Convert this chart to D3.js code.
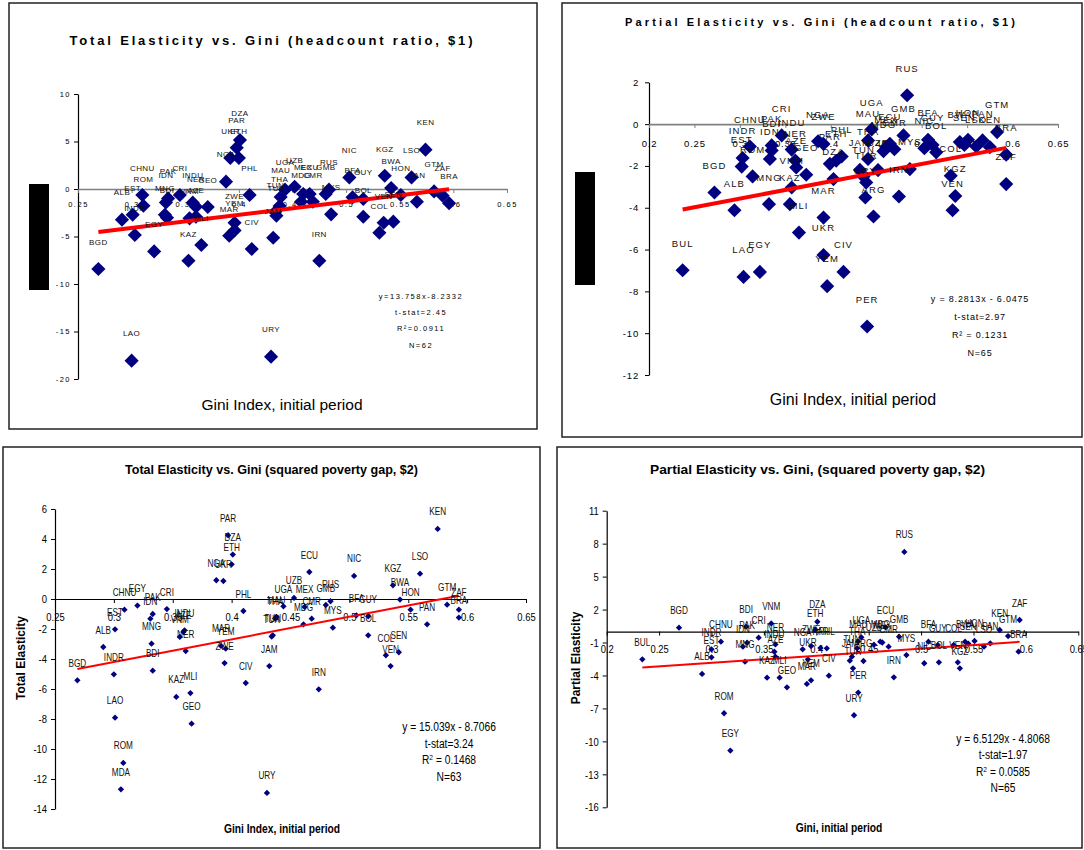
<!DOCTYPE html>
<html>
<head>
<meta charset="utf-8">
<script src="https://cdn.jsdelivr.net/npm/d3@7"></script>
<style>
body { margin: 0; background: #fff; }
</style>
</head>
<body>
<div class="chart"></div>
<script>
// ---- panel 1: total elasticity, headcount ratio $1 ----
const p1Names = ['BGD','ALB','EST','INDR','CHNU','ROM','EGY','MNG','PAK','IDN','BDI','CRI','KAZ','INDU','VNM','AZE','NER','MLI','GEO','NGA','MAR','UKR','ZWE','YEM','DZA','PAR','ETH','PHL','CIV','KEN','NIC','KGZ','LSO','BWA','HON','GTM','ZAF','BRA','PAN','UGA','UZB','MAU','MEX','ECU','GMB','RUS','MDG','CMR','THA','TUN','TUR','MYS','BFA','GUY','BOL','VEN','SEN','COL','JAM','IRN','LAO','URY'];
const p1Gini = [0.269,0.291,0.301,0.303,0.310,0.311,0.321,0.331,0.334,0.332,0.333,0.345,0.353,0.357,0.354,0.360,0.360,0.365,0.371,0.388,0.391,0.392,0.396,0.396,0.401,0.398,0.400,0.410,0.412,0.574,0.503,0.536,0.561,0.542,0.551,0.582,0.590,0.596,0.566,0.443,0.452,0.439,0.460,0.466,0.481,0.484,0.458,0.469,0.438,0.434,0.435,0.486,0.506,0.516,0.516,0.535,0.544,0.531,0.432,0.475,0.300,0.430];
const p1Elast = [-8.42,-3.23,-2.71,-4.84,-0.63,-1.76,-6.57,-2.71,-0.99,-1.41,-3.02,-0.63,-7.55,-1.44,-3.09,-2.92,-1.86,-5.90,-1.89,0.77,-4.92,3.26,-3.55,-4.36,5.16,4.35,3.26,-0.63,-6.32,4.14,1.22,1.40,1.22,0.10,-0.63,-0.25,-0.70,-1.50,-1.34,-0.07,0.24,-0.84,-0.53,-0.53,-0.53,-0.07,-1.34,-1.34,-1.79,-2.40,-2.81,-2.67,-0.88,-1.05,-2.92,-3.55,-3.44,-4.60,-5.13,-7.55,-18.07,-17.65];
const p1XTicks = [0.25,0.3,0.35,0.4,0.45,0.5,0.55,0.6,0.65];
const p1YTicks = [-20,-15,-10,-5,0,5,10];
const p1Fit = [13.758, -8.2332];
const p1Stats = ['y=13.758x-8.2332','t-stat=2.45','R\u00b2=0.0911','N=62'];

// ---- panel 2: partial elasticity, headcount ratio $1 ----
const p2Names = ['BUL','LAO','EGY','BGD','ALB','CHNU','INDR','EST','ROM','PAK','BDI','IDN','CRI','INDU','NER','AZE','GEO','VNM','MNG','KAZ','MLI','NGA','ZWE','RUS','UGA','MAU','GMB','ECU','MEX','MDG','CMR','PHL','PAR','ETH','DZA','THA','JAM','UZB','TUN','TUR','URY','ARG','IRN','MYS','BFA','NIC','BOL','GUY','COL','KGZ','VEN','GTM','BRA','ZAF','BWA','HON','SEN','PAN','LSO','KEN','MAR','UKR','CIV','YEM','PER'];
const p2Gini = [0.237,0.304,0.322,0.272,0.294,0.311,0.303,0.302,0.314,0.335,0.335,0.333,0.346,0.357,0.361,0.362,0.373,0.357,0.332,0.355,0.365,0.386,0.392,0.484,0.445,0.441,0.480,0.465,0.461,0.458,0.470,0.412,0.399,0.406,0.403,0.441,0.432,0.452,0.436,0.439,0.438,0.447,0.475,0.487,0.507,0.503,0.516,0.512,0.532,0.537,0.534,0.583,0.593,0.593,0.542,0.551,0.547,0.567,0.560,0.575,0.392,0.392,0.414,0.396,0.440];
const p2Elast = [-6.99,-7.31,-7.07,-3.27,-4.12,-1.07,-1.62,-2.03,-2.50,-1.02,-1.26,-1.67,-0.54,-1.22,-1.74,-2.07,-2.42,-3.03,-3.83,-3.83,-5.19,-0.82,-0.95,1.38,-0.25,-0.78,-0.54,-0.94,-1.10,-1.30,-1.20,-1.55,-1.90,-1.75,-2.63,-1.67,-2.19,-2.20,-2.50,-2.79,-3.51,-4.42,-3.46,-2.15,-0.75,-1.15,-1.35,-1.00,-2.47,-3.44,-4.12,-0.38,-1.46,-2.87,-0.86,-0.75,-1.00,-0.78,-1.07,-1.10,-4.47,-6.26,-7.07,-7.75,-9.68];
const p2XTicks = [0.2,0.25,0.3,0.35,0.4,0.45,0.5,0.55,0.6,0.65];
const p2YTicks = [-12,-10,-8,-6,-4,-2,0,2];
const p2Fit = [8.2813, -6.0475];
const p2Stats = ['y = 8.2813x - 6.0475','t-stat=2.97','R\u00b2 = 0.1231','N=65'];

// ---- panel 3: total elasticity, squared poverty gap $2 ----
const p3Names = ['PAR','DZA','ETH','NGA','UKR','PHL','CHNU','EGY','PAK','IDN','CRI','EST','ALB','INDU','VNM','AZE','NER','MNG','BDI','INDR','BGD','MAR','YEM','ZWE','CIV','KAZ','MLI','JAM','LAO','ROM','MDA','GEO','URY','KEN','ECU','NIC','LSO','KGZ','BWA','HON','GTM','ZAF','BRA','PAN','UZB','UGA','MAU','TUN','TUR','THA','MEX','GMB','RUS','CMR','MDG','MYS','BFA','GUY','BOL','COL','SEN','VEN','IRN'];
const p3Gini = [0.397,0.401,0.400,0.387,0.393,0.410,0.309,0.320,0.333,0.331,0.345,0.301,0.291,0.360,0.356,0.359,0.361,0.332,0.333,0.300,0.269,0.391,0.395,0.394,0.412,0.353,0.365,0.432,0.301,0.308,0.306,0.366,0.430,0.575,0.466,0.504,0.560,0.537,0.543,0.552,0.583,0.593,0.593,0.566,0.453,0.444,0.438,0.435,0.434,0.437,0.462,0.480,0.484,0.468,0.461,0.486,0.506,0.516,0.516,0.531,0.542,0.535,0.474];
const p3Elast = [4.25,2.96,2.31,1.25,1.20,-0.80,-0.71,-0.44,-1.00,-1.31,-0.67,-2.02,-3.20,-2.09,-2.53,-2.20,-3.47,-2.98,-4.78,-5.02,-5.42,-3.13,-3.31,-4.27,-5.60,-6.53,-6.27,-4.47,-7.91,-10.93,-12.69,-8.31,-12.93,4.67,1.80,1.54,1.69,0.91,-0.04,-0.71,-0.38,-0.71,-1.24,-1.69,0.07,-0.49,-1.20,-2.42,-2.50,-1.30,-0.53,-0.40,-0.15,-1.31,-1.69,-1.91,-1.09,-1.15,-2.42,-3.75,-3.55,-4.47,-6.02];
const p3XTicks = [0.25,0.3,0.35,0.4,0.45,0.5,0.55,0.6,0.65];
const p3YTicks = [-14,-12,-10,-8,-6,-4,-2,0,2,4,6];
const p3Fit = [15.039, -8.7066];
const p3Stats = ['y = 15.039x - 8.7066','t-stat=3.24','R\u00b2 = 0.1468','N=63'];

// ---- panel 4: partial elasticity, squared poverty gap $2 ----
const p4Names = ['BGD','BUL','ALB','EST','INDR','CHNU','BDI','PAK','IDN','MNG','CRI','VNM','NER','INDU','AZE','KAZ','MLI','GEO','ROM','EGY','URY','DZA','ETH','NGA','ZWE','MAR','YEM','UKR','RUS','ZAF','KEN','GTM','BRA','PAN','LSO','HON','BWA','SEN','COL','GUY','BFA','BOL','NIC','VEN','KGZ','ECU','GMB','UGA','MAU','MDG','CMR','THA','UZB','MYS','IRN','TUN','JAM','ARG','TUR','PER','CIV','PHL','MEX','PAR'];
const p4Gini = [0.269,0.234,0.291,0.300,0.300,0.309,0.333,0.334,0.330,0.332,0.345,0.357,0.361,0.360,0.361,0.353,0.365,0.372,0.312,0.318,0.436,0.401,0.399,0.387,0.395,0.391,0.395,0.392,0.484,0.594,0.575,0.583,0.593,0.566,0.560,0.551,0.542,0.545,0.531,0.516,0.507,0.517,0.503,0.535,0.537,0.466,0.479,0.443,0.440,0.461,0.469,0.439,0.455,0.486,0.474,0.434,0.432,0.445,0.435,0.440,0.412,0.410,0.463,0.404];
const p4Elast = [0.35,-2.53,-3.86,-2.35,-1.62,-0.92,0.44,-1.01,-1.38,-2.74,-0.56,0.74,-1.17,-1.84,-2.29,-4.20,-4.20,-5.08,-7.44,-10.84,-7.62,0.89,0.14,-1.62,-1.32,-4.77,-4.44,-2.53,7.25,1.05,0.14,-0.41,-1.83,-1.07,-1.38,-0.86,-0.92,-1.10,-1.23,-1.23,-0.92,-2.80,-2.89,-2.80,-3.35,0.38,-0.47,-0.53,-0.90,-0.92,-1.38,-1.53,-1.20,-2.14,-4.17,-2.29,-2.65,-2.68,-3.35,-5.56,-4.02,-1.53,-1.00,-1.50];
const p4XTicks = [0.2,0.25,0.3,0.35,0.4,0.45,0.5,0.55,0.6,0.65];
const p4YTicks = [-16,-13,-10,-7,-4,-1,2,5,8,11];
const p4Fit = [6.5129, -4.8068];
const p4Stats = ['y = 6.5129x - 4.8068','t-stat=1.97','R\u00b2 = 0.0585','N=65'];

const wideFont = 'Arial, "Liberation Sans", sans-serif';

const svg = d3.select('.chart')
    .append('svg')
    .attr('width', 1084)
    .attr('height', 850);

// squeeze text horizontally around its own anchor (the bottom charts use a condensed face)
function squeeze(sel, s) {
    if (s === 1) return;
    sel.each(function () {
        const t = d3.select(this);
        const tx = +t.attr('x') || 0, ty = +t.attr('y') || 0;
        t.attr('x', 0).attr('y', 0).attr('transform', `translate(${tx},${ty}) scale(${s},1)`);
    });
}

function drawPanel(c) {
    const g = svg.append('g');
    const x = d3.scaleLinear().domain(c.xDomain).range(c.xRange);
    const y = d3.scaleLinear().domain(c.yDomain).range(c.yRange);
    const data = c.names.map((n, i) => ({ name: n, gini: c.gini[i], e: c.elast[i] }));

    // frame
    g.append('rect')
        .attr('x', c.frame[0])
        .attr('y', c.frame[1])
        .attr('width', c.frame[2] - c.frame[0])
        .attr('height', c.frame[3] - c.frame[1])
        .attr('fill', 'none')
        .attr('stroke', '#222')
        .attr('stroke-width', 1.5);

    if (c.box) {
        g.append('rect')
            .attr('x', c.box[0]).attr('y', c.box[1])
            .attr('width', c.box[2] - c.box[0]).attr('height', c.box[3] - c.box[1])
            .attr('fill', '#000');
    }

    const yAxis = g.append('g')
        .attr('transform', `translate(${c.xRange[0]},0)`)
        .call(d3.axisLeft(y).tickValues(c.yTicks).tickSize(4).tickSizeOuter(0).tickPadding(c.yPad).tickFormat(d => d));
    const xAxis = g.append('g')
        .attr('transform', `translate(0,${y(0)})`)
        .call(d3.axisBottom(x).tickValues(c.xTicks).tickSize(4).tickSizeOuter(0).tickPadding(c.xPad)
            .tickFormat(d => String(+d.toFixed(2))));

    [yAxis, xAxis].forEach(a => {
        a.attr('font-family', wideFont).attr('font-size', c.tickSize);
        a.selectAll('text').attr('fill', '#000').style('letter-spacing', c.tickSpacing + 'px');
        a.selectAll('line').attr('stroke', '#000');
        a.select('.domain').attr('stroke', '#000').attr('stroke-width', 1.2);
        squeeze(a.selectAll('text'), c.sx);
    });
    xAxis.select('.domain').attr('stroke', c.zeroColor).attr('stroke-width', c.zeroWidth);
    xAxis.selectAll('line').attr('stroke', c.zeroColor);

    // points
    g.selectAll('path.pt')
        .data(data)
        .join('path')
        .attr('class', 'pt')
        .attr('d', d3.symbol(d3.symbolSquare, c.symArea))
        .attr('transform', d => `translate(${x(d.gini)},${y(d.e)}) rotate(45)`)
        .attr('fill', '#000080');

    // trend line
    const xs = d3.extent(c.gini);
    g.append('line')
        .attr('x1', x(xs[0])).attr('y1', y(c.fit[0] * xs[0] + c.fit[1]))
        .attr('x2', x(xs[1])).attr('y2', y(c.fit[0] * xs[1] + c.fit[1]))
        .attr('stroke', '#ff0000')
        .attr('stroke-width', c.lineWidth);

    // country labels
    const lbl = g.append('g')
        .attr('font-family', wideFont)
        .attr('font-size', c.lblSize)
        .attr('text-anchor', 'middle')
        .style('letter-spacing', c.lblSpacing + 'px')
        .selectAll('text')
        .data(data)
        .join('text')
        .attr('x', d => x(d.gini))
        .attr('y', d => y(d.e) - c.lblOff)
        .attr('dy', '0.35em')
        .attr('fill', '#111')
        .text(d => d.name);
    squeeze(lbl, c.sx);

    // regression stats
    const st = g.append('g')
        .attr('font-family', wideFont)
        .attr('font-size', c.statSize)
        .attr('text-anchor', 'middle')
        .style('letter-spacing', c.statSpacing + 'px');
    c.stats.forEach((s, i) => {
        const t = st.append('text')
            .attr('x', c.statPos[0])
            .attr('y', c.statPos[1] + i * c.statStep)
            .attr('dy', '0.35em');
        if (c.supR && s.startsWith('R\u00b2')) {
            t.append('tspan').text('R');
            t.append('tspan').attr('font-size', c.statSize * 0.65).attr('dy', '-0.5em').text('2');
            t.append('tspan').attr('dy', '0.32em').text(s.slice(2));
        } else {
            t.text(s);
        }
    });
    squeeze(st.selectAll('text'), c.sx);

    // title
    g.append('text')
        .attr('x', c.titlePos[0])
        .attr('y', c.titlePos[1])
        .attr('text-anchor', 'middle')
        .attr('font-family', wideFont)
        .attr('font-size', c.titleSize)
        .attr('font-weight', 'bold')
        .attr('textLength', c.titleLen)
        .attr('lengthAdjust', c.titleAdjust)
        .text(c.title);

    // x axis title
    const xt = g.append('text')
        .attr('x', c.xTitlePos[0])
        .attr('y', c.xTitlePos[1])
        .attr('text-anchor', 'middle')
        .attr('font-family', wideFont)
        .attr('font-size', c.xTitleSize)
        .attr('font-weight', c.xTitleWeight)
        .text(c.xTitle);
    squeeze(xt, c.sx);

    if (c.yTitle) {
        g.append('text')
            .attr('transform', `translate(${c.yTitlePos[0]},${c.yTitlePos[1]}) rotate(-90)`)
            .attr('text-anchor', 'middle')
            .attr('dy', '0.35em')
            .attr('font-family', wideFont)
            .attr('font-size', 12)
            .attr('font-weight', 'bold')
            .text(c.yTitle);
    }
}

const topStyle = {
    sx: 1, zeroColor: '#808080', zeroWidth: 1.6, titleAdjust: 'spacing',
    xTitleWeight: 'normal', lineWidth: 4, symArea: 100, lblOff: 27, supR: false
};
const bottomStyle = {
    sx: 0.82, tickSize: 11.5, tickSpacing: 0, zeroColor: '#000', zeroWidth: 1.2,
    lblSize: 10, lblSpacing: 0, statSize: 12.5, statSpacing: 0,
    statStep: 16.5, titleSize: 12.5, titleAdjust: 'spacingAndGlyphs',
    xTitleSize: 12.5, xTitleWeight: 'bold', lineWidth: 2, symArea: 20, lblOff: 17, supR: true
};

drawPanel(Object.assign({}, topStyle, {
    names: p1Names, gini: p1Gini, elast: p1Elast, fit: p1Fit, stats: p1Stats,
    xTicks: p1XTicks, yTicks: p1YTicks,
    xDomain: [0.25, 0.65], xRange: [78, 507], yDomain: [-20, 10], yRange: [379, 94],
    frame: [9, 3, 537, 429], box: [29, 184, 49, 290],
    tickSize: 7.5, tickSpacing: 1.5, xPad: 9, yPad: 3,
    lblSize: 8, lblSpacing: 0.4,
    statSize: 7.5, statSpacing: 1.5, statPos: [421, 296], statStep: 16.3,
    title: 'Total Elasticity vs. Gini (headcount ratio, $1)', titlePos: [271, 45], titleSize: 13, titleLen: 403,
    xTitle: 'Gini Index, initial period', xTitlePos: [282, 410], xTitleSize: 15.5
}));

drawPanel(Object.assign({}, topStyle, {
    names: p2Names, gini: p2Gini, elast: p2Elast, fit: p2Fit, stats: p2Stats,
    xTicks: p2XTicks, yTicks: p2YTicks,
    xDomain: [0.2, 0.65], xRange: [649, 1058], yDomain: [-12, 2], yRange: [375, 82.3],
    frame: [562, 3, 1082, 437], box: [575, 172, 595, 285],
    tickSize: 9.5, tickSpacing: 0.8, xPad: 12, yPad: 6,
    lblSize: 9.5, lblSpacing: 1.1,
    statSize: 9, statSpacing: 0.8, statPos: [980, 298.5], statStep: 18.1,
    title: 'Partial Elasticity vs. Gini (headcount ratio, $1)', titlePos: [820, 26], titleSize: 11, titleLen: 390,
    xTitle: 'Gini Index, initial period', xTitlePos: [853, 405], xTitleSize: 16
}));

drawPanel(Object.assign({}, bottomStyle, {
    names: p3Names, gini: p3Gini, elast: p3Elast, fit: p3Fit, stats: p3Stats,
    xTicks: p3XTicks, yTicks: p3YTicks,
    xDomain: [0.25, 0.65], xRange: [55, 526], yDomain: [-14, 6], yRange: [809, 509],
    frame: [3, 447, 540, 848], xPad: 10, yPad: 4,
    statPos: [449, 727],
    title: 'Total Elasticity vs. Gini (squared poverty gap, $2)', titlePos: [271.5, 473.5], titleLen: 293,
    xTitle: 'Gini Index, initial period', xTitlePos: [282, 832.5],
    yTitle: 'Total Elasticity', yTitlePos: [20.7, 658]
}));

drawPanel(Object.assign({}, bottomStyle, {
    names: p4Names, gini: p4Gini, elast: p4Elast, fit: p4Fit, stats: p4Stats,
    xTicks: p4XTicks, yTicks: p4YTicks,
    xDomain: [0.2, 0.65], xRange: [606.7, 1078.3], yDomain: [-16, 11], yRange: [807.3, 510.7],
    frame: [557, 447, 1082, 848], xPad: 9, yPad: 4,
    statPos: [1003, 738.5],
    title: 'Partial Elasticity vs. Gini, (squared poverty gap, $2)', titlePos: [817.5, 473.5], titleLen: 335,
    xTitle: 'Gini, initial period', xTitlePos: [839, 832],
    yTitle: 'Partial Elasticity', yTitlePos: [575.7, 658]
}));
</script>
</body>
</html>
